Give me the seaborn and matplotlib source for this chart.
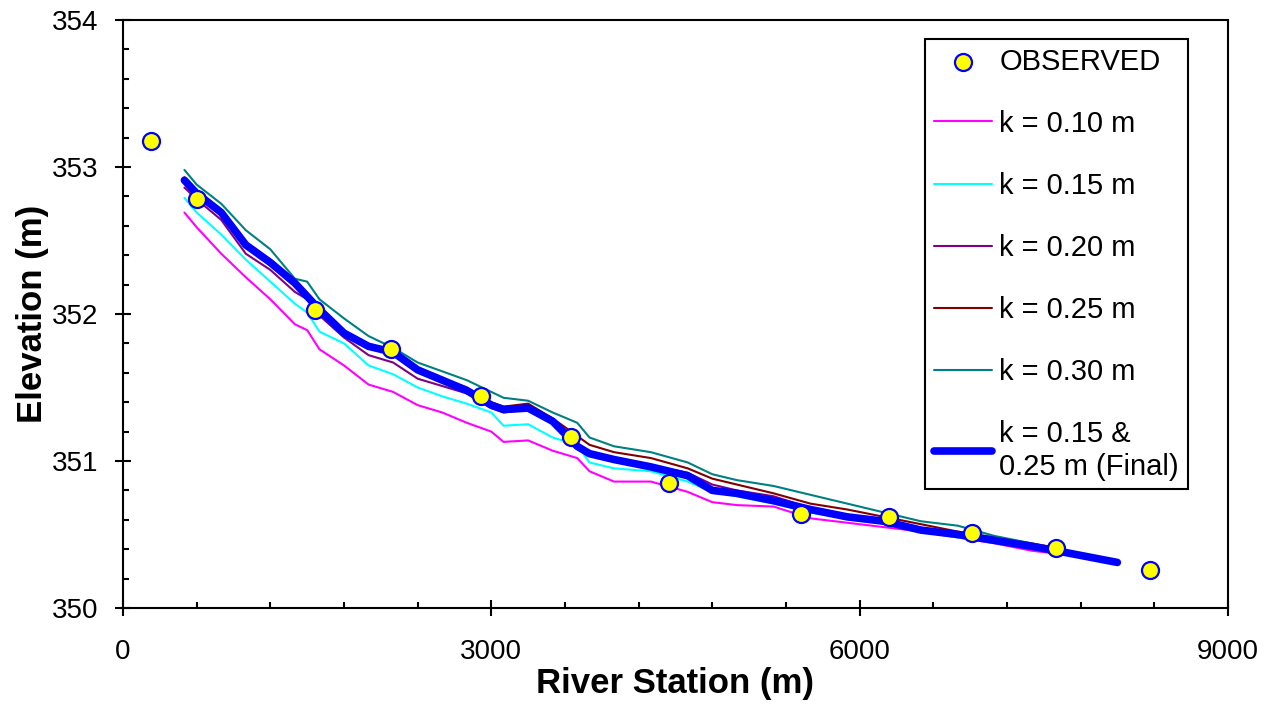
import matplotlib
matplotlib.use("Agg")
import matplotlib.pyplot as plt
import pandas as pd
import seaborn as sns
from matplotlib.ticker import MultipleLocator

# river stations (m) for the simulated profiles
stations = [500, 600, 800, 1000, 1200, 1400, 1500, 1600, 1800, 2000, 2200, 2400,
            2600, 2800, 3000, 3100, 3300, 3500, 3700, 3800, 4000, 4300, 4600, 4800,
            5000, 5300, 5600, 5900, 6200, 6500, 6800, 7100, 7400, 7600]
final_stations = stations + [8100]

k010 = [352.69, 352.59, 352.41, 352.25, 352.10, 351.93, 351.89, 351.76, 351.65, 351.52,
        351.47, 351.38, 351.33, 351.26, 351.20, 351.13, 351.14, 351.07, 351.02, 350.93,
        350.86, 350.86, 350.79, 350.72, 350.70, 350.69, 350.61, 350.58, 350.55, 350.52,
        350.48, 350.44, 350.39, 350.37]
k015 = [352.79, 352.69, 352.54, 352.37, 352.22, 352.07, 352.01, 351.88, 351.80, 351.65,
        351.59, 351.50, 351.44, 351.39, 351.33, 351.24, 351.25, 351.16, 351.11, 350.99,
        350.95, 350.93, 350.86, 350.79, 350.76, 350.71, 350.65, 350.61, 350.58, 350.52,
        350.48, 350.45, 350.41, 350.39]
k020 = [352.86, 352.78, 352.64, 352.41, 352.30, 352.15, 352.10, 351.99, 351.84, 351.72,
        351.67, 351.56, 351.51, 351.46, 351.36, 351.33, 351.35, 351.26, 351.12, 351.06,
        351.02, 350.97, 350.92, 350.84, 350.80, 350.76, 350.68, 350.63, 350.60, 350.54,
        350.50, 350.47, 350.43, 350.40]
k025 = [352.93, 352.84, 352.71, 352.48, 352.37, 352.22, 352.13, 352.04, 351.88, 351.79,
        351.76, 351.63, 351.56, 351.50, 351.40, 351.37, 351.39, 351.29, 351.17, 351.11,
        351.06, 351.02, 350.95, 350.88, 350.84, 350.78, 350.71, 350.67, 350.62, 350.57,
        350.52, 350.48, 350.44, 350.41]
k030 = [352.98, 352.88, 352.75, 352.57, 352.44, 352.24, 352.22, 352.10, 351.97, 351.85,
        351.77, 351.67, 351.61, 351.55, 351.47, 351.43, 351.41, 351.33, 351.26, 351.16,
        351.10, 351.06, 350.99, 350.91, 350.87, 350.83, 350.77, 350.71, 350.65, 350.59,
        350.56, 350.49, 350.44, 350.40]
k_final = [352.91, 352.82, 352.69, 352.47, 352.35, 352.21, 352.12, 352.03, 351.87, 351.78,
           351.74, 351.62, 351.55, 351.48, 351.38, 351.35, 351.36, 351.27, 351.10, 351.05,
           351.01, 350.96, 350.90, 350.80, 350.78, 350.73, 350.67, 350.62, 350.59, 350.53,
           350.50, 350.46, 350.42, 350.39, 350.31]

obs_station = [230, 600, 1560, 2180, 2920, 3650, 4450, 5520, 6240, 6920, 7600, 8370]
obs_elev = [353.18, 352.78, 352.03, 351.76, 351.44, 351.16, 350.85, 350.64, 350.62,
            350.51, 350.41, 350.26]

sns.set_style("ticks")
plt.rcParams["font.family"] = ["Liberation Sans", "DejaVu Sans"]
plt.rcParams["text.color"] = "black"
plt.rcParams["axes.labelcolor"] = "black"

fig = plt.figure(figsize=(12.75, 7.06), dpi=100)
ax = fig.add_axes([0.0965, 0.1388, 0.8665, 0.8329])

series = [
    ("k = 0.10 m", k010, "#FF00FF"),
    ("k = 0.15 m", k015, "#00FFFF"),
    ("k = 0.20 m", k020, "#800080"),
    ("k = 0.25 m", k025, "#800000"),
    ("k = 0.30 m", k030, "#008080"),
]
for label, vals, color in series:
    df = pd.DataFrame({"station": stations, "elev": vals})
    sns.lineplot(data=df, x="station", y="elev", color=color, lw=1.5, ax=ax,
                 label=label, sort=False)
df_final = pd.DataFrame({"station": final_stations, "elev": k_final})
sns.lineplot(data=df_final, x="station", y="elev", color="#0000FF", lw=5.5, ax=ax,
             label="k = 0.15 &\n0.25 m (Final)", sort=False, zorder=3)
df_obs = pd.DataFrame({"station": obs_station, "elev": obs_elev})
sns.scatterplot(data=df_obs, x="station", y="elev", color="#FFFF00", edgecolor="#0000FF",
                linewidth=1.6, s=150, ax=ax, label="OBSERVED", zorder=4)

h, l = ax.get_legend_handles_labels()
order = [6, 0, 1, 2, 3, 4, 5]
leg = ax.legend([h[i] for i in order], [l[i] for i in order],
                loc="upper right", bbox_to_anchor=(0.9638, 0.968),
                fontsize=21, frameon=True, fancybox=False, framealpha=1,
                edgecolor="black", handlelength=2.0, handletextpad=0.25,
                labelspacing=1.17, borderpad=0.3, borderaxespad=0)
leg.get_frame().set_linewidth(1.5)

ax.set_xlim(0, 9000)
ax.set_ylim(350, 354)
ax.xaxis.set_major_locator(MultipleLocator(3000))
ax.xaxis.set_minor_locator(MultipleLocator(600))
ax.yaxis.set_major_locator(MultipleLocator(1))
ax.yaxis.set_minor_locator(MultipleLocator(0.2))
ax.tick_params(which="both", colors="black", labelcolor="black")
ax.tick_params(which="major", direction="inout", length=12, width=1.5, labelsize=20)
ax.tick_params(axis="x", which="major", pad=16)
ax.tick_params(axis="y", which="major", pad=12)
ax.tick_params(which="minor", direction="in", length=4, width=1.5)
for sp in ax.spines.values():
    sp.set_linewidth(1.5)
    sp.set_color("black")

ax.set_xlabel("River Station (m)", fontsize=25, fontweight="bold", labelpad=2)
ax.set_ylabel("Elevation (m)", fontsize=25, fontweight="bold", labelpad=2)

fig.savefig("out.png", dpi=100)
